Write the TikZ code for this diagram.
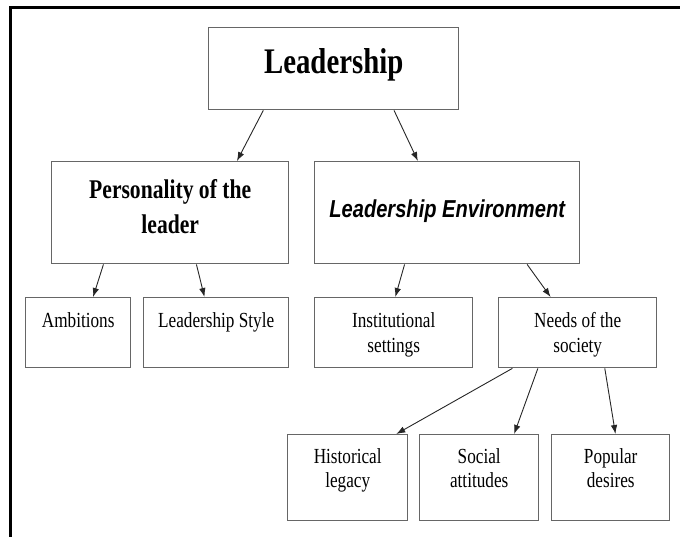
\documentclass[tikz,border=0pt]{standalone}
\usepackage{fontspec}
\setmainfont{Liberation Serif}[FakeStretch=0.8]
\newfontfamily\envfont{Liberation Sans}[FakeStretch=0.82]
\usetikzlibrary{calc,arrows.meta}

\begin{document}
\begin{tikzpicture}[x=1pt,y=-1pt,
  blk/.style={draw=black!60,line width=1.4pt,inner sep=0pt,anchor=north west,align=flush center},
  top/.style={text height=46pt,text depth=36pt,font=\fontsize{36}{38}\selectfont\bfseries},
  mid/.style={text height=37pt,text depth=65pt,font=\fontsize{27}{35}\selectfont\bfseries},
  low/.style={text height=30pt,text depth=40pt,font=\fontsize{21.5}{25}\selectfont},
  bot/.style={text height=29pt,text depth=57pt,font=\fontsize{21.5}{24}\selectfont},
  arr/.style={-{Latex[length=9pt,width=6.5pt]},draw=black!85,line width=0.9pt}]
  \useasboundingbox (0,0) rectangle (680,537);
  \draw[line width=3pt] (680,8) -- (10,8) -- (10,537);

  % top
  \node[blk,top,text width=250pt] (lead) at (208,27) {Leadership};

  % second row
  \node[blk,mid,text width=237pt] (pers) at (51,161) {Personality of the\\leader};
  \node[blk,mid,text width=265pt,text height=56pt,text depth=46pt,font=\fontsize{24.5}{28}\envfont\bfseries\itshape] (env) at (314,161) {Leadership Environment};

  % third row
  \node[blk,low,text width=105pt] (amb) at (25,297) {Ambitions};
  \node[blk,low,text width=145pt] (lstyle) at (143,297) {Leadership Style};
  \node[blk,low,text width=158pt] (inst) at (314,297) {Institutional\\settings};
  \node[blk,low,text width=158pt] (needs) at (498,297) {Needs of the\\society};

  % fourth row
  \node[blk,bot,text width=120pt] (hist) at (287,434) {Historical\\legacy};
  \node[blk,bot,text width=119pt] (soc) at (419,434) {Social\\attitudes};
  \node[blk,bot,text width=118pt] (pop) at (551,434) {Popular\\desires};

  \draw[arr] ($(lead.south west)!.22!(lead.south east)$) -- ($(pers.north west)!.78!(pers.north east)$);
  \draw[arr] ($(lead.south west)!.74!(lead.south east)$) -- ($(env.north west)!.39!(env.north east)$);
  \draw[arr] ($(pers.south west)!.22!(pers.south east)$) -- ($(amb.north west)!.64!(amb.north east)$);
  \draw[arr] ($(pers.south west)!.61!(pers.south east)$) -- ($(lstyle.north west)!.42!(lstyle.north east)$);
  \draw[arr] ($(env.south west)!.34!(env.south east)$) -- ($(inst.north west)!.51!(inst.north east)$);
  \draw[arr] ($(env.south west)!.80!(env.south east)$) -- ($(needs.north west)!.33!(needs.north east)$);
  \draw[arr] ($(needs.south west)!.09!(needs.south east)$) -- ($(hist.north west)!.90!(hist.north east)$);
  \draw[arr] ($(needs.south west)!.25!(needs.south east)$) -- ($(soc.north west)!.79!(soc.north east)$);
  \draw[arr] ($(needs.south west)!.67!(needs.south east)$) -- ($(pop.north west)!.54!(pop.north east)$);
\end{tikzpicture}
\end{document}
